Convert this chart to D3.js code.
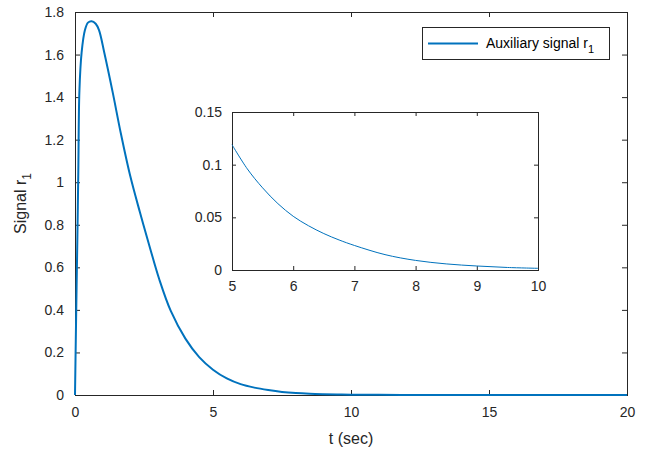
<!DOCTYPE html>
<html>
<head>
<meta charset="utf-8">
<script src="https://cdn.jsdelivr.net/npm/d3@7"></script>
<style>
  body { margin: 0; background: #fff; }
  svg { font-family: "Liberation Sans", Arial, sans-serif; }
  .axis path, .axis line { stroke: #262626; }
  .axis text { fill: #262626; font-size: 14px; }
</style>
</head>
<body>
<svg id="chart" width="649" height="453"></svg>
<script>
"use strict";

// main signal
const tMain = [0, 0.04, 0.085, 0.12, 0.16, 0.24, 0.36, 0.47, 0.6, 0.75, 0.87, 1.06, 1.37, 1.66,
  2.0, 2.35, 2.72, 3.05, 3.47, 4.0, 4.5, 5, 5.5, 6, 6.5, 7, 7.5, 8, 8.5, 9, 9.5, 10,
  11, 12, 13, 14, 16, 18, 20];
const rMain = [0, 0.36, 0.73, 1.05, 1.43, 1.61, 1.715, 1.75, 1.757, 1.745, 1.715, 1.61, 1.42, 1.23,
  1.03, 0.86, 0.69, 0.545, 0.395, 0.265, 0.178, 0.119, 0.078, 0.051, 0.0346, 0.0233, 0.0146,
  0.0091, 0.0058, 0.0038, 0.0024, 0.0016, 0.0007, 0.0003, 0.0001, 0, 0, 0, 0];

// inset (zoom on 5..10 s)
const tInset = [5, 5.25, 5.5, 5.75, 6, 6.25, 6.5, 6.75, 7, 7.5, 8, 8.5, 9, 9.5, 10];
const rInset = [0.119, 0.096, 0.078, 0.063, 0.051, 0.042, 0.0346, 0.0285, 0.0233, 0.0146,
  0.0091, 0.0058, 0.0038, 0.0024, 0.0016];

const xTicksMain = [0, 5, 10, 15, 20];
const yTicksMain = [0, 0.2, 0.4, 0.6, 0.8, 1, 1.2, 1.4, 1.6, 1.8];
const xTicksInset = [5, 6, 7, 8, 9, 10];
const yTicksInset = [0, 0.05, 0.1, 0.15];

const lineColor = "#0072BD";

var svg = d3.select("#chart");

var main = { left: 75, right: 627, top: 12, bottom: 395 };
var inset = { left: 232, right: 538, top: 112, bottom: 270 };

function drawAxes(box, xDom, yDom, xTicks, yTicks, tickLen, xFmt, yFmt) {
  var x = d3.scaleLinear().domain(xDom).range([box.left, box.right]);
  var y = d3.scaleLinear().domain(yDom).range([box.bottom, box.top]);
  var w = box.right - box.left, h = box.bottom - box.top;

  var g = svg.append("g");
  g.append("rect")
    .attr("x", box.left).attr("y", box.top)
    .attr("width", w).attr("height", h)
    .attr("fill", "#fff");

  // bottom + left with labels
  g.append("g").attr("class", "axis")
    .attr("transform", "translate(0," + box.bottom + ")")
    .call(d3.axisBottom(x).tickValues(xTicks).tickSize(-tickLen).tickPadding(tickLen + 7).tickFormat(xFmt))
    .call(a => a.select(".domain").remove());
  g.append("g").attr("class", "axis")
    .attr("transform", "translate(" + box.left + ",0)")
    .call(d3.axisLeft(y).tickValues(yTicks).tickSize(-tickLen).tickPadding(tickLen + 6).tickFormat(yFmt))
    .call(a => a.select(".domain").remove());
  // mirrored ticks top + right
  g.append("g").attr("class", "axis")
    .attr("transform", "translate(0," + box.top + ")")
    .call(d3.axisTop(x).tickValues(xTicks).tickSize(-tickLen).tickFormat(""))
    .call(a => a.select(".domain").remove());
  g.append("g").attr("class", "axis")
    .attr("transform", "translate(" + box.right + ",0)")
    .call(d3.axisRight(y).tickValues(yTicks).tickSize(-tickLen).tickFormat(""))
    .call(a => a.select(".domain").remove());

  g.append("rect")
    .attr("x", box.left + 0.5).attr("y", box.top + 0.5)
    .attr("width", w).attr("height", h)
    .attr("fill", "none").attr("stroke", "#262626").attr("stroke-width", 1);

  return { x: x, y: y, g: g };
}

// main axes
var m = drawAxes(main, [0, 20], [0, 1.8], xTicksMain, yTicksMain, 5, d3.format("d"), d => d3.format("")(d));

var mainLine = d3.line().x((d, i) => m.x(tMain[i])).y(d => m.y(d)).curve(d3.curveCatmullRom.alpha(0.5));
m.g.append("path")
  .attr("d", mainLine(rMain))
  .attr("fill", "none")
  .attr("stroke", lineColor)
  .attr("stroke-width", 2);

// axis labels
svg.append("text")
  .attr("x", (main.left + main.right) / 2)
  .attr("y", 444)
  .attr("text-anchor", "middle")
  .attr("font-size", 16)
  .attr("fill", "#262626")
  .text("t (sec)");

var yl = svg.append("text")
  .attr("transform", "translate(26," + ((main.top + main.bottom) / 2) + ") rotate(-90)")
  .attr("text-anchor", "middle")
  .attr("font-size", 16)
  .attr("fill", "#262626");
yl.append("tspan").text("Signal r");
yl.append("tspan").attr("font-size", 12).attr("dy", 5).text("1");

// legend
var leg = svg.append("g");
leg.append("rect")
  .attr("x", 422.5).attr("y", 27.5).attr("width", 187).attr("height", 32)
  .attr("fill", "#fff").attr("stroke", "#262626");
leg.append("line")
  .attr("x1", 428).attr("x2", 478).attr("y1", 43.5).attr("y2", 43.5)
  .attr("stroke", lineColor).attr("stroke-width", 2);
var lt = leg.append("text")
  .attr("x", 486).attr("y", 48)
  .attr("font-size", 14)
  .attr("fill", "#000");
lt.append("tspan").text("Auxiliary signal r");
lt.append("tspan").attr("font-size", 11).attr("dy", 5).text("1");

// inset
var ins = drawAxes(inset, [5, 10], [0, 0.15], xTicksInset, yTicksInset, 4, d3.format("d"), d => d3.format("")(d));
var insLine = d3.line().x((d, i) => ins.x(tInset[i])).y(d => ins.y(d)).curve(d3.curveCatmullRom.alpha(0.5));
ins.g.append("path")
  .attr("d", insLine(rInset))
  .attr("fill", "none")
  .attr("stroke", lineColor)
  .attr("stroke-width", 1);
</script>
</body>
</html>
